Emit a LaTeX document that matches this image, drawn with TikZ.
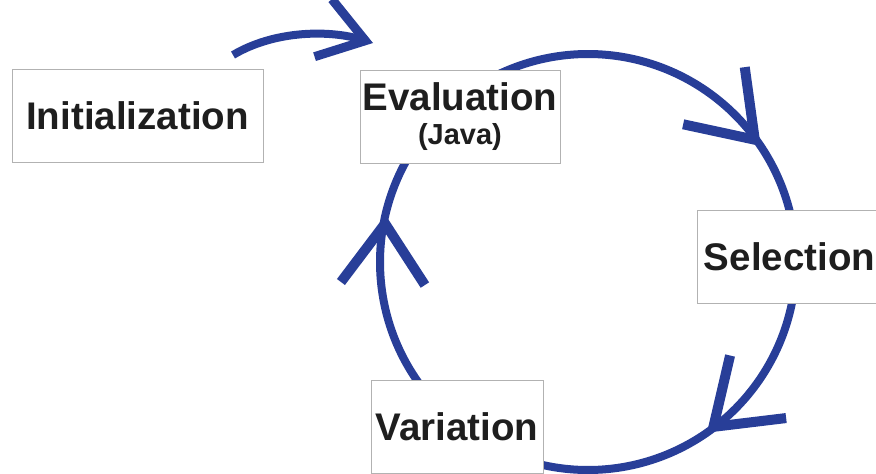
\documentclass[tikz,border=0pt]{standalone}
\usepackage{fontspec}
\setmainfont{Liberation Sans}
\usetikzlibrary{arrows.meta,decorations.markings}
\definecolor{cycleblue}{RGB}{40,62,152}
\definecolor{inkblack}{RGB}{30,30,30}
\begin{document}
\begin{tikzpicture}[x=1pt,y=-1pt,
  stagebox/.style={rectangle, fill=white, draw=black!30, line width=0.8pt, inner sep=0pt, text=inkblack, font=\bfseries\fontsize{38.5}{40}\selectfont},
  ring/.style={draw=cycleblue, line width=8pt},
  barb/.style 2 args={postaction={decorate, decoration={markings, mark=at position #1 with {\arrow[cycleblue, rotate=#2]{Straight Barb[length=60pt,width=84pt,line width=10pt]}}}}}]
\useasboundingbox (0,0) rectangle (876,474);
\clip (0,0) rectangle (876,474);
\coordinate (hub) at (588,262);
\draw [ring, barb={0.783}{9}] (hub) ++(240:208) arc [start angle=240, end angle=350, radius=208];
\draw [ring, barb={0.475}{7}] (hub) ++(10:208) arc [start angle=10, end angle=105, radius=208];
\draw [ring, barb={0.708}{11}] (hub) ++(140:208) arc [start angle=140, end angle=215, radius=208];
\node [stagebox, minimum width=251pt, minimum height=93pt] (init) at (137.5,115.5) {Initialization};
\node [stagebox, minimum width=200pt, minimum height=93pt, align=center] (eval) at (460,116.5) {Evaluation\\[-6pt]{\fontsize{29}{30}\selectfont (Java)}};
\node [stagebox, minimum width=185pt, minimum height=93pt] (sel) at (789.5,256.5) {Selection};
\node [stagebox, minimum width=172pt, minimum height=93pt] (var) at (457,426.5) {Variation};
\coordinate (kick) at (233,55);
\coordinate (kickend) at (373,43);
\draw [ring, -{Straight Barb[length=44pt,width=60pt,line width=9pt]}] (kick) .. controls (275,30) and (330,30) .. (kickend);
\end{tikzpicture}
\end{document}
